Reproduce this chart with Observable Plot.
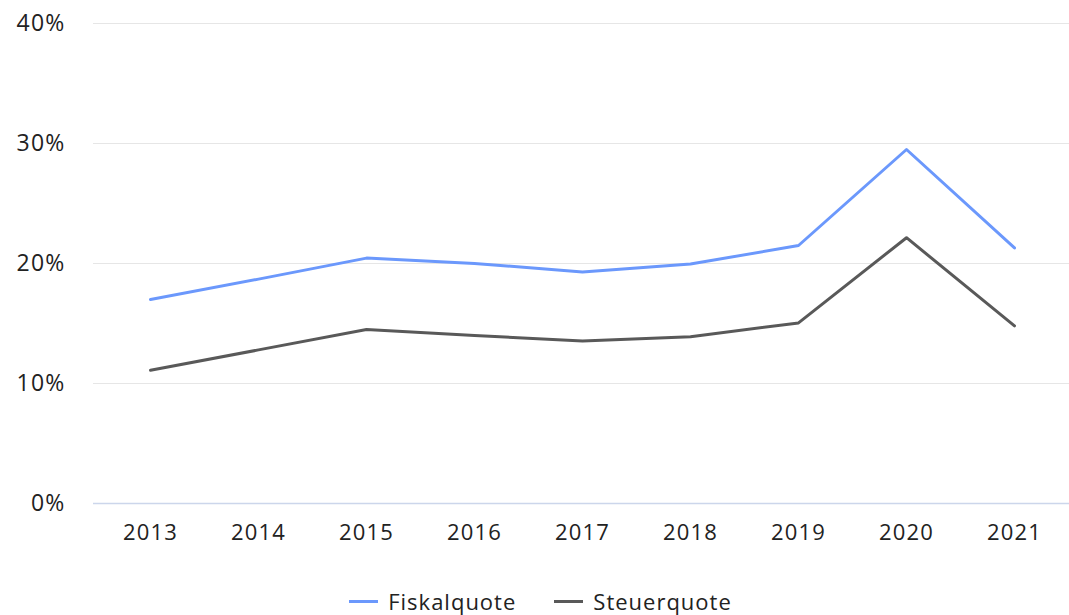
<!DOCTYPE html>
<html>
<head>
<meta charset="utf-8">
<script src="https://cdn.jsdelivr.net/npm/d3@7"></script>
<script src="https://cdn.jsdelivr.net/npm/@observablehq/plot@0.6"></script>
<style>
  html, body { margin: 0; padding: 0; background: #fff; }
  body { width: 1069px; height: 615px; overflow: hidden; font-family: "Open Sans", sans-serif; }
  #legend { display: flex; justify-content: center; gap: 38px; margin-top: 26px; padding-left: 12px; font-size: 22px; letter-spacing: 1px; color: #222; }
  .item { display: flex; align-items: center; gap: 10px; }
  .sw { width: 29px; height: 3px; }
  svg text { letter-spacing: 1.2px; }
</style>
</head>
<body>
<div id="chart"></div>
<div id="legend"></div>
<script>
const years = ["2013","2014","2015","2016","2017","2018","2019","2020","2021"];
const fiskalquote = [17.0, 18.7, 20.45, 20.0, 19.3, 19.95, 21.5, 29.5, 21.3];
const steuerquote = [11.1, 12.8, 14.5, 14.0, 13.55, 13.9, 15.05, 22.15, 14.8];
const seriesNames = ["Fiskalquote", "Steuerquote"];
const seriesColors = ["#6b98fc", "#595959"];
const yTicks = [0, 10, 20, 30, 40];

const data = [];
years.forEach((y, i) => {
  data.push({year: y, value: fiskalquote[i], series: seriesNames[0]});
  data.push({year: y, value: steuerquote[i], series: seriesNames[1]});
});

const chart = Plot.plot({
  width: 1069,
  height: 560,
  marginLeft: 93,
  marginRight: 0,
  marginTop: 23,
  marginBottom: 57,
  style: {fontFamily: "Open Sans, sans-serif", fontSize: "22px", color: "#222", background: "#fff"},
  x: {type: "point", domain: years, padding: 0.5, range: [92, 1071], label: null},
  y: {domain: [0, 40], label: null},
  color: {domain: seriesNames, range: seriesColors},
  marks: [
    Plot.gridY(yTicks.filter(t => t > 0), {stroke: "#e6e6e6", strokeOpacity: 1, strokeWidth: 1}),
    Plot.ruleY([0], {stroke: "#ccd6eb", strokeWidth: 1.5}),
    Plot.axisX({tickSize: 0, tickPadding: 21, fontSize: 22}),
    Plot.axisY({ticks: yTicks, tickFormat: d => d + "%", tickSize: 0, tickPadding: 28, fontSize: 23}),
    Plot.line(data, {x: "year", y: "value", stroke: "series", strokeWidth: 3, strokeLinejoin: "round", strokeLinecap: "round"})
  ]
});
document.getElementById("chart").appendChild(chart);

const legend = document.getElementById("legend");
seriesNames.forEach((n, i) => {
  const it = document.createElement("div");
  it.className = "item";
  const sw = document.createElement("div");
  sw.className = "sw";
  sw.style.background = seriesColors[i];
  const t = document.createElement("span");
  t.textContent = n;
  it.appendChild(sw); it.appendChild(t);
  legend.appendChild(it);
});
</script>
</body>
</html>
